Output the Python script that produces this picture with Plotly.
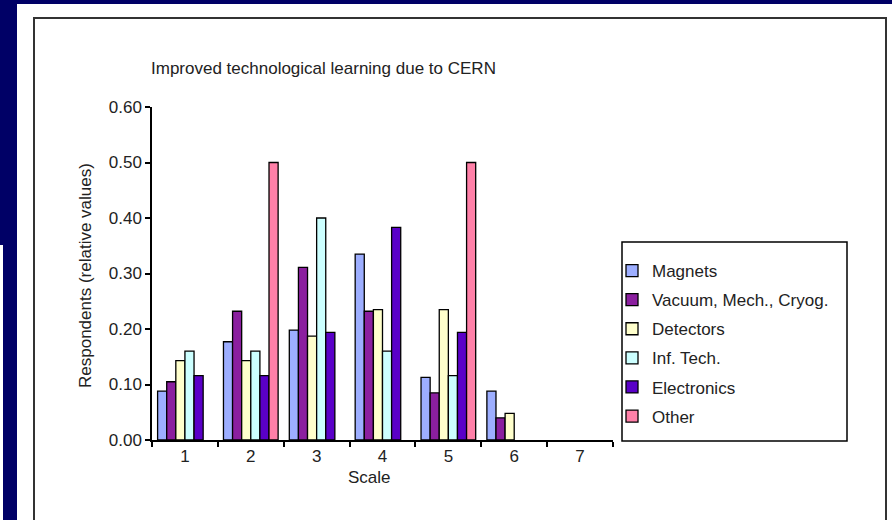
import plotly.graph_objects as go

categories = ["1", "2", "3", "4", "5", "6", "7"]
series_names = ["Magnets", "Vacuum, Mech., Cryog.", "Detectors", "Inf. Tech.", "Electronics", "Other"]
magnets = [0.088, 0.177, 0.198, 0.335, 0.113, 0.088, None]
vacuum = [0.105, 0.232, 0.311, 0.232, 0.085, 0.040, None]
detectors = [0.143, 0.143, 0.187, 0.235, 0.235, 0.048, None]
inf_tech = [0.160, 0.160, 0.400, 0.160, 0.116, None, None]
electronics = [0.116, 0.116, 0.194, 0.383, 0.194, None, None]
other = [None, 0.50, None, None, 0.50, None, None]
series_values = [magnets, vacuum, detectors, inf_tech, electronics, other]
colors = ["#9DAEFF", "#8B1F9F", "#FFFFCC", "#CCFFFF", "#5A00C8", "#FF80A8"]
y_ticks = [0.0, 0.1, 0.2, 0.3, 0.4, 0.5, 0.6]

W, H = 892, 520
L, R, T, B = 152, 613, 107, 440

def px(x):
    return (x - L) / (R - L)

def py(y):
    return (B - y) / (B - T)

fig = go.Figure()
for name, vals, col in zip(series_names, series_values, colors):
    fig.add_trace(go.Bar(
        x=categories, y=vals, name=name, legendgroup=name,
        marker=dict(color=col, line=dict(color="black", width=1.3)),
    ))

font = "Liberation Sans, Arial, sans-serif"
FS = 17
fig.update_layout(
    width=W, height=H,
    margin=dict(l=L, r=W - R, t=T, b=H - B),
    paper_bgcolor="#000066",
    plot_bgcolor="white",
    barmode="group", bargap=0.17, bargroupgap=0,
    font=dict(family=font, size=FS, color="#222222"),
    showlegend=True,
    legend=dict(
        x=px(612), y=py(253), xanchor="left", yanchor="top",
        bgcolor="rgba(0,0,0,0)", borderwidth=0,
        font=dict(family=font, size=FS, color="#222222"),
        tracegroupgap=4, itemwidth=30,
    ),
    xaxis=dict(
        type="category", showline=True, linecolor="black", linewidth=1.5,
        ticks="outside", ticklen=5, tickcolor="black", tickwidth=1.5,
        tickson="boundaries", showgrid=False, zeroline=False,
        tickfont=dict(size=FS),
    ),
    yaxis=dict(
        range=[0, 0.6], tickvals=y_ticks, tickformat=".2f",
        showline=True, linecolor="black", linewidth=1.5,
        ticks="outside", ticklen=5, tickcolor="black", tickwidth=1.5,
        showgrid=False, zeroline=False, tickfont=dict(size=FS),
    ),
    shapes=[
        dict(type="rect", xref="paper", yref="paper", layer="below",
             x0=px(17), x1=px(900), y0=py(4), y1=py(530),
             fillcolor="white", line=dict(width=0)),
        dict(type="rect", xref="paper", yref="paper", layer="below",
             x0=px(-2), x1=px(3), y0=py(245), y1=py(530),
             fillcolor="white", line=dict(width=0)),
        dict(type="rect", xref="paper", yref="paper", layer="below",
             x0=px(34), x1=px(886), y0=py(18), y1=py(540),
             fillcolor="rgba(0,0,0,0)", line=dict(color="#333333", width=2)),
        dict(type="rect", xref="paper", yref="paper", layer="below",
             x0=px(622), x1=px(847), y0=py(242), y1=py(441),
             fillcolor="white", line=dict(color="black", width=1.5)),
    ],
    annotations=[
        dict(text="Improved technological learning due to CERN", xref="paper", yref="paper",
             x=px(149), y=py(68), xanchor="left", yanchor="middle", showarrow=False,
             font=dict(size=FS)),
        dict(text="Respondents (relative values)", xref="paper", yref="paper",
             x=px(85), y=py(276), xanchor="center", yanchor="middle", showarrow=False,
             textangle=-90, font=dict(size=FS)),
        dict(text="Scale", xref="paper", yref="paper",
             x=px(369), y=py(477), xanchor="center", yanchor="middle", showarrow=False,
             font=dict(size=FS)),
    ],
)

fig.write_html(
    "out.html",
    config={"displayModeBar": False},
    post_script="document.body.style.margin='0';document.body.style.overflow='hidden';",
)
